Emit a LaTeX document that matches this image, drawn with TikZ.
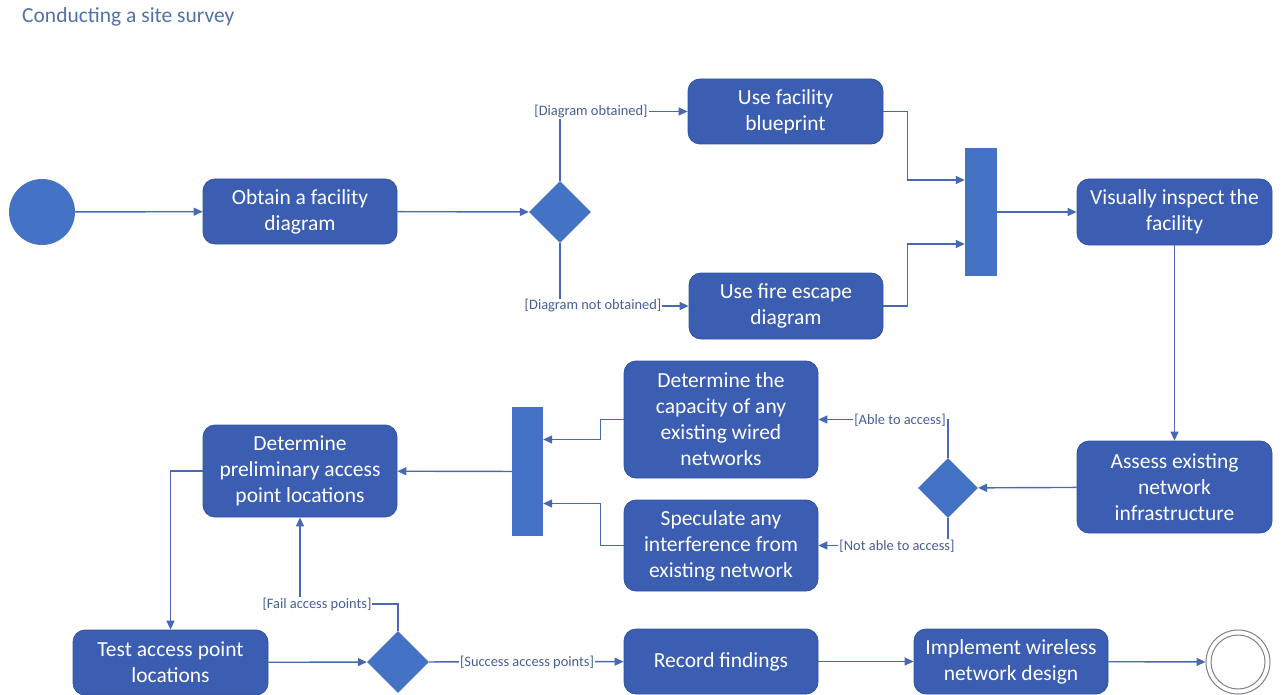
\documentclass[tikz,border=0pt]{standalone}
\usepackage{fontspec}
\setmainfont{Carlito}
\usetikzlibrary{arrows.meta,shapes.geometric}
\definecolor{boxfill}{RGB}{59,94,178}
\definecolor{boxborder}{RGB}{50,82,160}
\definecolor{decfill}{RGB}{68,114,196}
\definecolor{linec}{RGB}{72,104,178}
\definecolor{lblc}{RGB}{70,95,150}
\definecolor{titlec}{RGB}{84,112,168}
\definecolor{endc}{RGB}{128,128,138}
\begin{document}
\begin{tikzpicture}[x=1pt,y=-1pt,
  act/.style={draw=boxborder, fill=boxfill, rounded corners=12pt, text=white,
    font=\fontsize{21.5}{26}\selectfont, align=center, inner sep=0pt, line width=0.8pt},
  dec/.style={diamond, fill=decfill, inner sep=0pt, minimum width=62pt, minimum height=62pt},
  barnode/.style={fill=decfill, inner sep=0pt},
  flow/.style={draw=linec, line width=1.4pt, -{Triangle[length=9pt,width=8pt]}},
  lbl/.style={fill=white, inner sep=1pt, text=lblc, font=\fontsize{14.4}{16}\selectfont}]
\useasboundingbox (0,0) rectangle (1282,695);
\node[anchor=west, text=titlec, font=\fontsize{21.5}{24}\selectfont, inner sep=0pt] (title) at (22,17) {Conducting a site survey};

\node[circle, fill=decfill, minimum size=66pt, inner sep=0pt] (start) at (42,212) {};
\node[act, minimum width=194pt, minimum height=65pt] (obtain) at (300,211.5) {Obtain a facility\\diagram};
\node[dec] (d1) at (560,212) {};
\node[act, minimum width=195pt, minimum height=65pt] (blueprint) at (785.5,111.5) {Use facility\\blueprint};
\node[act, minimum width=194pt, minimum height=66pt] (fire) at (786,306) {Use fire escape\\diagram};
\node[barnode, minimum width=32pt, minimum height=128pt] (fork1) at (981,212) {};
\node[act, minimum width=195pt, minimum height=66pt] (visual) at (1174.5,212) {Visually inspect the\\facility};
\node[act, minimum width=195pt, minimum height=92pt] (assess) at (1174.5,487) {Assess existing\\network\\infrastructure};
\node[dec, minimum width=60pt, minimum height=60pt] (d2) at (948,488) {};
\node[act, minimum width=194pt, minimum height=117pt] (cap) at (721,419.5) {Determine the\\capacity of any\\existing wired\\networks};
\node[act, minimum width=194pt, minimum height=91pt] (spec) at (721,545.5) {Speculate any\\interference from\\existing network};
\node[barnode, minimum width=31pt, minimum height=129pt] (join2) at (527.5,471.5) {};
\node[act, minimum width=194pt, minimum height=92pt] (prelim) at (300,471) {Determine\\preliminary access\\point locations};
\node[act, minimum width=195pt, minimum height=65pt] (test) at (170.5,662.5) {Test access point\\locations};
\node[dec] (d3) at (398,662) {};
\node[act, minimum width=194pt, minimum height=65pt] (record) at (721,661.5) {Record findings};
\node[act, minimum width=194pt, minimum height=65pt] (impl) at (1011,661.5) {Implement wireless\\network design};
\node[circle, draw=endc, line width=1pt, fill=white, minimum size=64pt, inner sep=0pt] (end) at (1238,662) {};
\draw[endc, line width=1pt] (end.center) circle (27pt);

\draw[flow] (start) -- (obtain);
\draw[flow] (obtain) -- (d1);
\draw[flow] (d1.north) |- (blueprint.west);
\node[lbl] (l1) at (591,112) {[Diagram obtained]};
\draw[flow] (d1.south) |- (fire.west);
\node[lbl] (l2) at (593,306) {[Diagram not obtained]};
\draw[flow] (blueprint.east) -- ++(24,0) |- ([yshift=32pt]fork1.west);
\draw[flow] (fire.east) -- ++(24,0) |- ([yshift=-32pt]fork1.west);
\draw[flow] (fork1) -- (visual);
\draw[flow] (visual) -- (assess);
\draw[flow] (assess) -- (d2);
\draw[flow] (d2.north) |- (cap.east);
\node[lbl] (l3) at (900,420) {[Able to access]};
\draw[flow] (d2.south) |- (spec.east);
\node[lbl] (l4) at (897,546) {[Not able to access]};
\draw[flow] (cap.west) -- ++(-23,0) |- ([yshift=32pt]join2.east);
\draw[flow] (spec.west) -- ++(-23,0) |- ([yshift=-32pt]join2.east);
\draw[flow] (join2) -- (prelim);
\draw[flow] (prelim.west) -| (test.north);
\draw[flow] (test) -- (d3);
\draw[flow] (d3.north) -- ++(0,-27) -| (prelim.south);
\node[lbl] (l5) at (317,604) {[Fail access points]};
\draw[flow] (d3) -- (record);
\node[lbl] (l6) at (527,662) {[Success access points]};
\draw[flow] (record) -- (impl);
\draw[flow] (impl) -- (end);
\end{tikzpicture}
\end{document}
